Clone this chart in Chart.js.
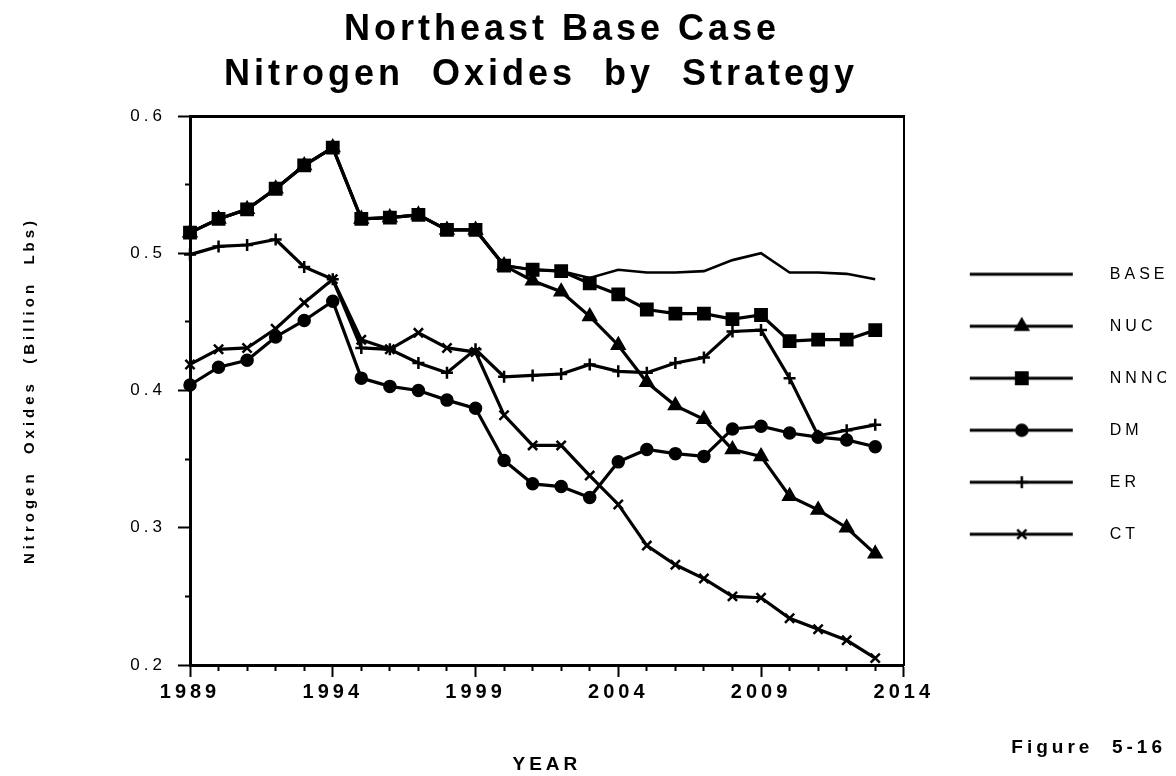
<!DOCTYPE html>
<html>
<head>
<meta charset="utf-8">
<title>Northeast Base Case - Nitrogen Oxides by Strategy</title>
<script src="https://cdn.jsdelivr.net/npm/chart.js@4.4.1/dist/chart.umd.min.js"></script>
<style>
  body { margin: 0; background: #fff; }
  canvas { display: block; }
</style>
</head>
<body>
<canvas id="myChart" width="1176" height="776"></canvas>
<script>
// x-axis categories, one per year (label shown every 5th year)
const years = ['1989','1990','1991','1992','1993','1994','1995','1996','1997','1998','1999',
               '2000','2001','2002','2003','2004','2005','2006','2007','2008','2009','2010',
               '2011','2012','2013','2014'];

// y values (billion lbs), 1989 - 2013
const base = [0.515,0.525,0.532,0.547,0.564,0.577,0.525,0.526,0.528,0.517,0.517,0.491,0.488,0.487,
              0.482,0.488,0.486,0.486,0.487,0.495,0.500,0.486,0.486,0.485,0.481];
const nuc  = [0.515,0.525,0.532,0.547,0.564,0.577,0.525,0.526,0.528,0.517,0.517,0.491,
              0.480,0.472,0.454,0.433,0.406,0.389,0.379,0.357,0.352,0.323,0.313,0.300,0.281];
const nnnc = [0.515,0.525,0.532,0.547,0.564,0.577,0.525,0.526,0.528,0.517,0.517,0.491,0.488,0.487,
              0.478,0.470,0.459,0.456,0.456,0.452,0.455,0.436,0.437,0.437,0.444];
const dm   = [0.404,0.417,0.422,0.439,0.451,0.465,0.409,0.403,0.400,0.393,0.387,0.349,0.332,0.330,
              0.322,0.348,0.357,0.354,0.352,0.372,0.374,0.369,0.366,0.364,0.359];
const er   = [0.499,0.505,0.506,0.510,0.490,0.481,0.431,0.430,0.420,0.413,0.430,0.410,0.411,0.412,
              0.419,0.414,0.413,0.420,0.424,0.443,0.444,0.409,0.367,0.371,0.375];
const ct   = [0.419,0.430,0.431,0.445,0.464,0.481,0.437,0.430,0.442,0.431,0.428,0.382,0.360,0.360,
              0.338,0.317,0.287,0.273,0.263,0.250,0.249,0.234,0.226,0.218,0.205];

// y-axis tick labels that get text (the 0.05 steps in between are minor ticks)
const yMajor = [0.2, 0.3, 0.4, 0.5, 0.6];

Chart.defaults.font.family = "'Liberation Sans', Arial, sans-serif";
Chart.defaults.color = '#000';

// the old typewriter-ish lettering is spaced wide, canvas can do that
const letterSpacing = {
    id: 'letterSpacing',
    beforeDraw(chart) {
        chart.ctx.letterSpacing = '4px';
    }
};

// legend sample = short line with the marker in the middle
function legendIcon(style, radius) {
    const c = document.createElement('canvas');
    c.width = 160;
    c.height = 22;
    const g = c.getContext('2d');
    g.strokeStyle = '#000';
    g.fillStyle = '#000';
    g.lineWidth = 3;
    g.beginPath();
    g.moveTo(28, 11);
    g.lineTo(131, 11);
    g.stroke();
    if (style) {
        g.lineWidth = 2.5;
        Chart.helpers.drawPoint(g, {pointStyle: style, radius: radius, borderWidth: 2.5}, 80, 11);
    }
    return c;
}

const series = [
    {label: 'BASE', data: base, style: false,      radius: 0},
    {label: 'NUC',  data: nuc,  style: 'triangle', radius: 7},
    {label: 'NNNC', data: nnnc, style: 'rect',     radius: 8},
    {label: 'DM',   data: dm,   style: 'circle',   radius: 5.5},
    {label: 'ER',   data: er,   style: 'cross',    radius: 6},
    {label: 'CT',   data: ct,   style: 'crossRot', radius: 6.5}
];
const icons = series.map(s => legendIcon(s.style, s.radius));

const ctx = document.getElementById('myChart');
const myChart = new Chart(ctx, {
    type: 'line',
    data: {
        labels: years,
        datasets: series.map(s => ({
            label: s.label,
            data: s.data,
            borderColor: '#000',
            backgroundColor: '#000',
            borderWidth: s.style ? 3.2 : 2.6,
            pointStyle: s.style || 'circle',
            pointRadius: s.radius,
            pointBorderWidth: 2.5,
            pointBackgroundColor: '#000',
            pointBorderColor: '#000',
            tension: 0,
            clip: false
        }))
    },
    options: {
        responsive: false,
        animation: false,
        layout: {
            padding: {left: 0, right: 10, top: 0, bottom: 0}
        },
        scales: {
            x: {
                type: 'category',
                afterFit: s => { s.height = 111; },
                grid: {
                    drawOnChartArea: false,
                    tickLength: 12,
                    tickWidth: 2,
                    tickColor: '#000',
                    // long tick every 5 years, stubs for the rest
                    tickBorderDash: c => (c.index % 5 === 0 ? [] : [4, 40])
                },
                border: {color: '#000', width: 3},
                ticks: {
                    autoSkip: false,
                    maxRotation: 0,
                    padding: 3,
                    font: {size: 20, weight: 'bold'},
                    callback: function(value, index) {
                        return index % 5 === 0 ? this.getLabelForValue(value) : '';
                    }
                },
                title: {
                    display: true,
                    text: 'YEAR',
                    font: {size: 19, weight: 'bold'},
                    padding: {top: 0, bottom: 0}
                }
            },
            y: {
                min: 0.2,
                max: 0.6,
                afterFit: s => { s.width = 190; },
                grid: {
                    drawOnChartArea: false,
                    tickLength: 12,
                    tickWidth: 2,
                    tickColor: '#000',
                    tickBorderDash: c => (yMajor.some(v => Math.abs(v - c.tick.value) < 1e-6) ? [] : [0, 7, 5, 40])
                },
                border: {color: '#000', width: 3},
                ticks: {
                    stepSize: 0.05,
                    padding: 12,
                    font: {size: 17},
                    callback: v => (yMajor.some(m => Math.abs(m - v) < 1e-6) ? v.toFixed(1) : '')
                },
                title: {
                    display: true,
                    text: 'Nitrogen  Oxides  (Billion  Lbs)',
                    font: {size: 15, weight: 'bold'},
                    padding: {top: 21, bottom: 0}
                }
            },
            // top and right edges of the plot frame
            x2: {
                type: 'linear',
                position: 'top',
                afterFit: s => { s.height = 0; },
                grid: {display: false, drawTicks: false},
                ticks: {display: false},
                border: {color: '#000', width: 3}
            },
            y2: {
                type: 'linear',
                position: 'right',
                afterFit: s => { s.width = 2; },
                grid: {display: false, drawTicks: false},
                ticks: {display: false},
                border: {color: '#000', width: 2}
            }
        },
        plugins: {
            title: {
                display: true,
                // trailing blanks nudge the centred lines left like the original
                text: ['Northeast Base Case   ', 'Nitrogen  Oxides  by  Strategy      '],
                font: {size: 36, weight: 'bold', lineHeight: 1.25},
                padding: {top: 8, bottom: 18}
            },
            subtitle: {
                display: true,
                position: 'bottom',
                align: 'end',
                text: 'Figure  5-16',
                font: {size: 19, weight: 'bold', lineHeight: 1.2},
                padding: {top: -39.4, bottom: 16.6}   // zero height, sits next to YEAR
            },
            legend: {
                position: 'right',
                align: 'center',
                maxWidth: 320,
                title: {display: true, text: ' ', font: {size: 12}, padding: {top: 10, bottom: 8}},
                labels: {
                    usePointStyle: true,
                    pointStyleWidth: 160,
                    padding: 36,
                    font: {size: 16},
                    generateLabels: chart => {
                        const items = Chart.defaults.plugins.legend.labels.generateLabels(chart);
                        items.forEach((it, i) => { it.pointStyle = icons[i]; });
                        return items;
                    }
                }
            },
            tooltip: {enabled: false}
        }
    },
    plugins: [letterSpacing]
});
</script>
</body>
</html>
